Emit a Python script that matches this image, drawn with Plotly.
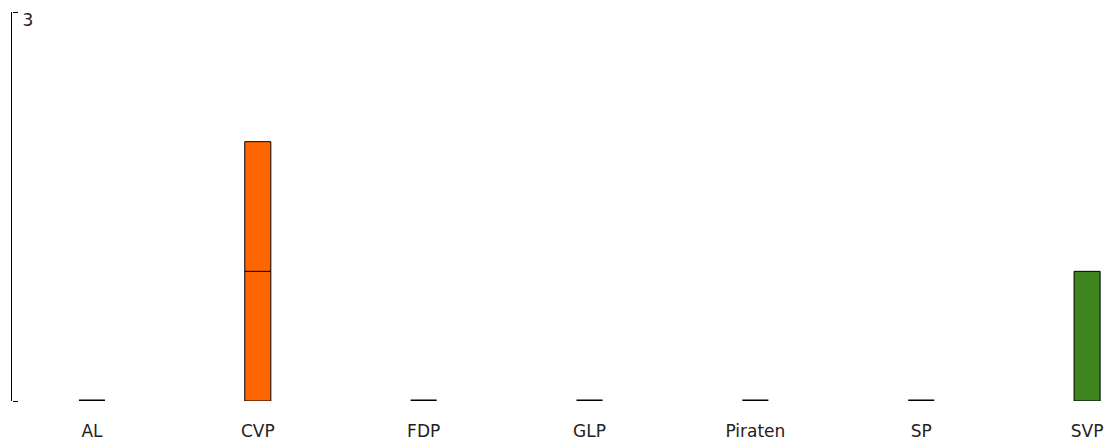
import plotly.graph_objects as go

parties = ["AL", "CVP", "FDP", "GLP", "Piraten", "SP", "SVP"]
seats_first = [0, 1, 0, 0, 0, 0, 1]
seats_second = [0, 1, 0, 0, 0, 0, 0]
party_colors = ["#999999", "#FF6600", "#0064B4", "#A6C23B", "#000000", "#E3001B", "#3F851F"]
y_tick_values = [0, 3]
y_tick_labels = ["", "3"]

fig = go.Figure()
fig.add_trace(go.Bar(
    x=parties, y=seats_first, width=0.157,
    marker=dict(color=party_colors,
                line=dict(color="#000000", width=[3 if v == 0 else 1 for v in seats_first])),
    showlegend=False, hoverinfo="x+y",
))
fig.add_trace(go.Bar(
    x=parties, y=seats_second, base=seats_first, width=0.157,
    marker=dict(color=party_colors,
                line=dict(color="#000000", width=[0 if v == 0 else 1 for v in seats_second])),
    showlegend=False, hoverinfo="x+y",
))
fig.add_trace(go.Scatter(x=[], y=[], yaxis="y2", showlegend=False))

fig.update_layout(
    width=1107, height=440,
    margin=dict(l=12, r=0, t=12, b=39, autoexpand=False),
    barmode="overlay",
    plot_bgcolor="white", paper_bgcolor="white",
    font=dict(family="DejaVu Sans", size=17, color="#222222"),
    xaxis=dict(range=[-0.482, 6.12], showgrid=False, zeroline=False, automargin=False,
               showline=False, ticks="", ticklen=0, ticklabelstandoff=18),
    yaxis=dict(range=[0, 3], showticklabels=False, ticks="",
               showline=True, linecolor="#000000", linewidth=1,
               showgrid=False, zeroline=False, automargin=False),
    yaxis2=dict(range=[0, 3], overlaying="y", side="right", anchor="free", position=0,
                tickvals=y_tick_values, ticktext=y_tick_labels,
                ticks="outside", ticklen=5, tickcolor="#000000", tickwidth=1,
                automargin=False, showticklabels=True, ticklabelstandoff=1,
                ticklabelshift=8,
                showline=False, showgrid=False, zeroline=False),
)
fig.write_html("out.html", config={"displayModeBar": False},
               post_script="document.body.style.margin='0';")
